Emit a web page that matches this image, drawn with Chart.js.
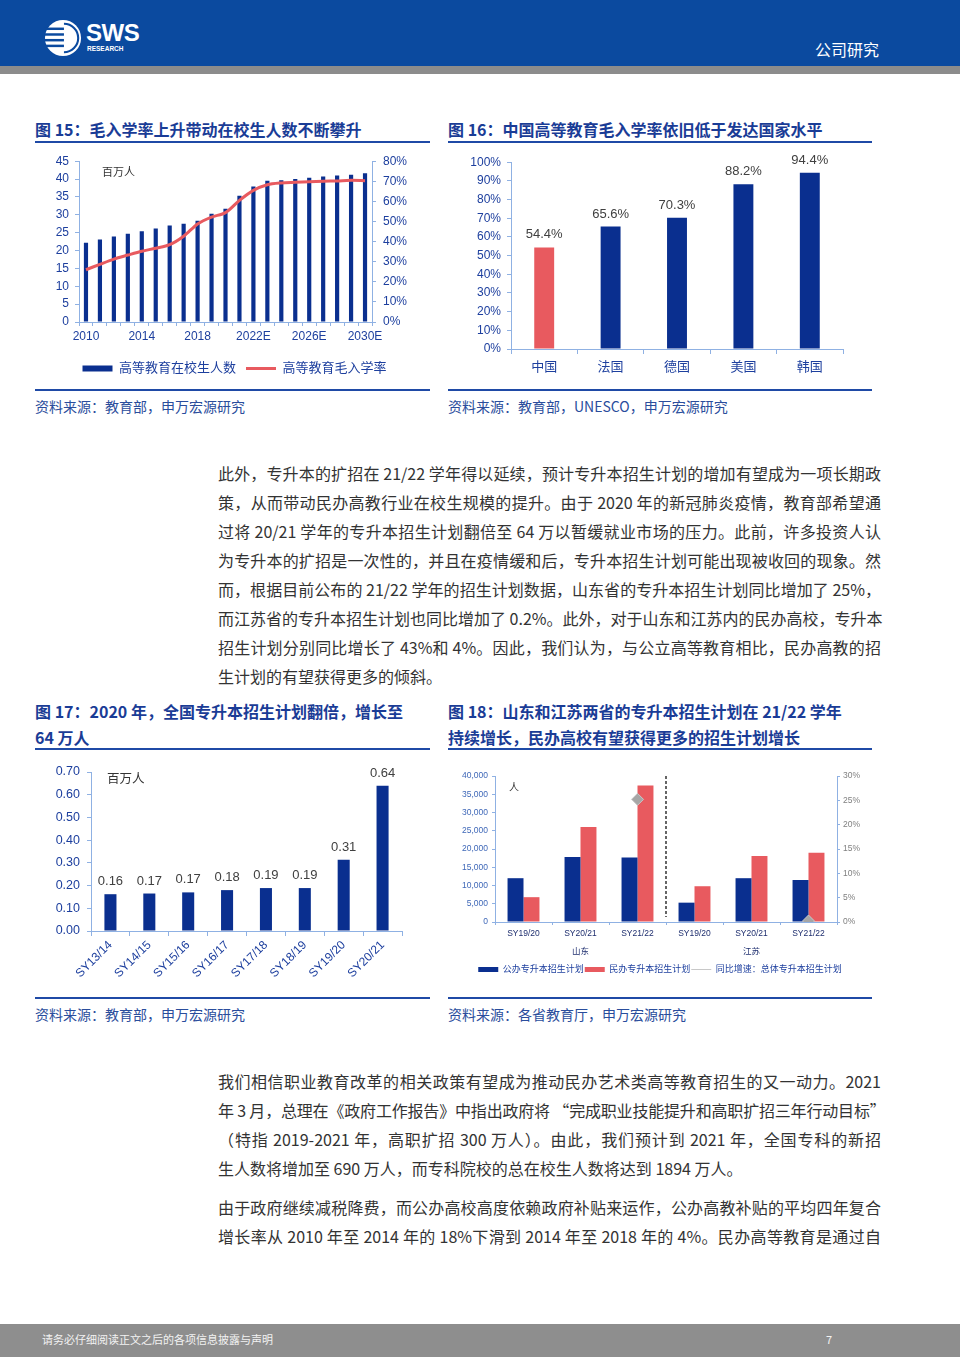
<!DOCTYPE html>
<html>
<head>
<meta charset="utf-8">
<script src="https://cdn.jsdelivr.net/npm/chart.js@4.4.1/dist/chart.umd.min.js"></script>
<style>
body{margin:0;width:960px;height:1357px;position:relative;background:#fff;font-family:"Noto Sans CJK SC",sans-serif;overflow:hidden}
.abs{position:absolute}
.title{font-size:16px;font-weight:bold;color:#1a3c96;line-height:26px;white-space:nowrap}
.rule{height:2px;background:#1f4aa6}
.src{font-size:14px;color:#2a4d9c;white-space:nowrap;line-height:20px}
.para{left:218px;width:663px;font-size:16px;color:#333}
.para div{height:29px;line-height:29px;text-align:justify;text-align-last:justify;white-space:nowrap}
.para div.last{text-align-last:left}
.unit{color:#333;white-space:nowrap}
.box{position:absolute}
</style>
</head>
<body>

<!-- header -->
<div class="abs" style="left:0;top:0;width:960px;height:66px;background:#0b4a9f"></div>
<div class="abs" style="left:0;top:66px;width:960px;height:8px;background:#8c8c8c"></div>
<svg class="abs" style="left:44px;top:19px" width="38" height="38" viewBox="0 0 40 40">
  <circle cx="20" cy="20" r="19" fill="#fff"/>
  <g fill="#0b4a9f">
    <rect x="0" y="9" width="21" height="2.6"/>
    <rect x="0" y="15" width="21" height="2.6"/>
    <rect x="0" y="21" width="21" height="2.6"/>
    <rect x="0" y="27" width="21" height="2.6"/>
  </g>
  <path d="M 21 5 A 15 15 0 0 1 21 35" fill="none" stroke="#0b4a9f" stroke-width="2.2"/>
</svg>
<div class="abs" style="left:86px;top:19px;font-family:'Liberation Sans',sans-serif;font-weight:bold;font-size:24px;color:#fff;letter-spacing:-0.5px">SWS</div>
<div class="abs" style="left:87px;top:45px;font-family:'Liberation Sans',sans-serif;font-weight:bold;font-size:6.5px;color:#fff">RESEARCH</div>
<div class="abs" style="left:815px;top:37px;font-size:16px;color:#fff">公司研究</div>

<!-- figure 15 / 16 -->
<div class="abs title" style="left:35px;top:116px">图 15：毛入学率上升带动在校生人数不断攀升</div>
<div class="abs rule" style="left:35px;top:141px;width:395px"></div>
<div class="abs title" style="left:448px;top:116px">图 16：中国高等教育毛入学率依旧低于发达国家水平</div>
<div class="abs rule" style="left:448px;top:141px;width:424px"></div>

<div class="box" style="left:30px;top:147px;width:409px;height:238px"><canvas id="c15"></canvas></div>
<div class="abs unit" style="left:102px;top:163px;font-size:11px">百万人</div>
<div class="box" style="left:448px;top:149px;width:424px;height:236px"><canvas id="c16"></canvas></div>

<div class="abs rule" style="left:35px;top:389px;width:395px"></div>
<div class="abs rule" style="left:448px;top:389px;width:424px"></div>
<div class="abs src" style="left:35px;top:396px">资料来源：教育部，申万宏源研究</div>
<div class="abs src" style="left:448px;top:396px">资料来源：教育部，UNESCO，申万宏源研究</div>

<!-- paragraph 1 -->
<div class="abs para" style="top:459px">
  <div>此外，专升本的扩招在 21/22 学年得以延续，预计专升本招生计划的增加有望成为一项长期政</div>
  <div>策，从而带动民办高教行业在校生规模的提升。由于 2020 年的新冠肺炎疫情，教育部希望通</div>
  <div>过将 20/21 学年的专升本招生计划翻倍至 64 万以暂缓就业市场的压力。此前，许多投资人认</div>
  <div>为专升本的扩招是一次性的，并且在疫情缓和后，专升本招生计划可能出现被收回的现象。然</div>
  <div>而，根据目前公布的 21/22 学年的招生计划数据，山东省的专升本招生计划同比增加了 25%，</div>
  <div>而江苏省的专升本招生计划也同比增加了 0.2%。此外，对于山东和江苏内的民办高校，专升本</div>
  <div>招生计划分别同比增长了 43%和 4%。因此，我们认为，与公立高等教育相比，民办高教的招</div>
  <div class="last">生计划的有望获得更多的倾斜。</div>
</div>

<!-- figure 17 / 18 -->
<div class="abs title" style="left:35px;top:698px">图 17：2020 年，全国专升本招生计划翻倍，增长至<br>64 万人</div>
<div class="abs rule" style="left:35px;top:748px;width:395px"></div>
<div class="abs title" style="left:448px;top:698px">图 18：山东和江苏两省的专升本招生计划在 21/22 学年<br>持续增长，民办高校有望获得更多的招生计划增长</div>
<div class="abs rule" style="left:448px;top:748px;width:424px"></div>

<div class="box" style="left:30px;top:757px;width:395px;height:236px"><canvas id="c17"></canvas></div>
<div class="abs unit" style="left:107px;top:768px;font-size:12.5px">百万人</div>
<div class="box" style="left:448px;top:762px;width:424px;height:222px"><canvas id="c18"></canvas></div>
<div class="abs unit" style="left:509px;top:779px;font-size:10px">人</div>

<div class="abs rule" style="left:35px;top:997px;width:395px"></div>
<div class="abs rule" style="left:448px;top:997px;width:424px"></div>
<div class="abs src" style="left:35px;top:1004px">资料来源：教育部，申万宏源研究</div>
<div class="abs src" style="left:448px;top:1004px">资料来源：各省教育厅，申万宏源研究</div>

<!-- paragraphs 2 / 3 -->
<div class="abs para" style="top:1067px">
  <div>我们相信职业教育改革的相关政策有望成为推动民办艺术类高等教育招生的又一动力。2021</div>
  <div style="letter-spacing:-0.18px">年 3 月，总理在《政府工作报告》中指出政府将 “完成职业技能提升和高职扩招三年行动目标”</div>
  <div>（特指 2019-2021 年，高职扩招 300 万人）。由此，我们预计到 2021 年，全国专科的新招</div>
  <div class="last">生人数将增加至 690 万人，而专科院校的总在校生人数将达到 1894 万人。</div>
</div>
<div class="abs para" style="top:1193px">
  <div>由于政府继续减税降费，而公办高校高度依赖政府补贴来运作，公办高教补贴的平均四年复合</div>
  <div>增长率从 2010 年至 2014 年的 18%下滑到 2014 年至 2018 年的 4%。民办高等教育是通过自</div>
</div>

<!-- footer -->
<div class="abs" style="left:0;top:1324px;width:960px;height:33px;background:#8e8e8e"></div>
<div class="abs" style="left:42px;top:1331px;font-size:11px;color:#f2f2f2">请务必仔细阅读正文之后的各项信息披露与声明</div>
<div class="abs" style="left:826px;top:1331px;font-size:11px;color:#f2f2f2">7</div>

<script>
// 图15：高等教育在校生人数（百万人）与毛入学率（%）
const enrolYears = ['2010', '2011', '2012', '2013', '2014', '2015', '2016', '2017', '2018', '2019', '2020',
                    '2021', '2022E', '2023E', '2024E', '2025E', '2026E', '2027E', '2028E', '2029E', '2030E'];
const enrolStudents = [22.2, 23.1, 23.9, 24.7, 25.4, 26.2, 27.0, 27.5, 28.3, 30.3, 31.7,
                       35.3, 37.9, 39.5, 39.7, 40.0, 40.4, 40.7, 41.0, 41.2, 41.6];
const grossRate = [26.0, 28.7, 31.3, 33.3, 35.2, 36.7, 38.5, 42.7, 48.8, 52.2, 54.4,
                   60.5, 65.5, 68.3, 69.2, 69.5, 69.8, 70.0, 70.2, 70.5, 70.3];

// 图16：各国高等教育毛入学率（%）
const countries = ['中国', '法国', '德国', '美国', '韩国'];
const countryRate = [54.4, 65.6, 70.3, 88.2, 94.4];

// 图17：全国专升本招生计划（百万人）
const schoolYears = ['SY13/14', 'SY14/15', 'SY15/16', 'SY16/17', 'SY17/18', 'SY18/19', 'SY19/20', 'SY20/21'];
const upgradeQuota = [0.162, 0.165, 0.170, 0.180, 0.189, 0.189, 0.314, 0.639];

// 图18：山东、江苏专升本招生计划（人）及同比增速（%）
const provinces = ['山东', '江苏'];
const provYears = ['SY19/20', 'SY20/21', 'SY21/22'];
const publicPlan = [12000, 17800, 17700, 5300, 12000, 11500];
const privatePlan = [6800, 26000, 37400, 9800, 18100, 19000];
const totalYoY = [null, null, 25.2, null, null, 0.2];

const navy = '#0a2f8f';
const red = '#e85a5f';
const axisBlue = '#8fb1e3';
const tickBlue = '#1d3f9e';

Chart.defaults.font.family = '"Liberation Sans", "Noto Sans CJK SC", sans-serif';
Chart.defaults.animation = false;
Chart.defaults.maintainAspectRatio = false;
Chart.defaults.plugins.tooltip.enabled = false;

// value labels above the bars of the first dataset
const barValueLabels = {
  id: 'barValueLabels',
  afterDatasetsDraw(chart, args, opts) {
    const ctx = chart.ctx;
    const meta = chart.getDatasetMeta(0);
    const values = chart.data.datasets[0].data;
    ctx.save();
    ctx.font = opts.size + 'px "Liberation Sans", sans-serif';
    ctx.fillStyle = '#404040';
    ctx.textAlign = 'center';
    ctx.textBaseline = 'bottom';
    meta.data.forEach((bar, i) => ctx.fillText(opts.format(values[i]), bar.x, bar.y - opts.gap));
    ctx.restore();
  }
};

// dashed line between the two provinces
const provinceSplit = {
  id: 'provinceSplit',
  afterDatasetsDraw(chart) {
    const x = chart.scales.x;
    const px = (x.getPixelForValue(2) + x.getPixelForValue(3)) / 2;
    const ctx = chart.ctx;
    ctx.save();
    ctx.strokeStyle = '#333';
    ctx.lineWidth = 1.5;
    ctx.setLineDash([3, 2]);
    ctx.beginPath();
    ctx.moveTo(px, chart.chartArea.top);
    ctx.lineTo(px, chart.chartArea.bottom - 5);
    ctx.stroke();
    ctx.restore();
  }
};

function legendItems(styles) {
  return function (chart) {
    const items = Chart.defaults.plugins.legend.labels.generateLabels(chart);
    items.sort((a, b) => a.datasetIndex - b.datasetIndex);
    items.forEach(it => { it.pointStyle = styles[it.datasetIndex]; });
    return items;
  };
}

function axisGrid(len) {
  return {drawOnChartArea: false, color: axisBlue, tickLength: len, tickColor: axisBlue};
}

// 图15
new Chart(document.getElementById('c15'), {
  data: {
    labels: enrolYears,
    datasets: [
      {type: 'bar', label: '高等教育在校生人数', data: enrolStudents, yAxisID: 'y',
       backgroundColor: navy, barPercentage: 0.3, categoryPercentage: 1, order: 1},
      {type: 'line', label: '高等教育毛入学率', data: grossRate, yAxisID: 'y1',
       borderColor: red, backgroundColor: red, borderWidth: 3, pointRadius: 0, tension: 0.3, order: 0}
    ]
  },
  options: {
    layout: {padding: {top: 10, right: 0, left: 0, bottom: 0}},
    plugins: {
      legend: {position: 'bottom', labels: {usePointStyle: true, pointStyleWidth: 30, boxHeight: 6,
        padding: 10, color: '#1d3f9e', font: {size: 13}, generateLabels: legendItems(['rect', 'line'])}}
    },
    scales: {
      x: {grid: {drawOnChartArea: false, tickLength: 4, tickColor: axisBlue, offset: true},
          border: {color: axisBlue},
          ticks: {autoSkip: false, maxRotation: 0, color: tickBlue, font: {size: 12}, padding: 3,
                  callback: (v, i) => i % 4 === 0 ? enrolYears[i] : ''},
          afterFit: s => { s.height = 30; }},
      y: {position: 'left', min: 0, max: 45, grid: axisGrid(4), border: {color: axisBlue},
          ticks: {stepSize: 5, autoSkip: false, color: tickBlue, font: {size: 12}, padding: 6},
          afterFit: s => { s.width = 49; }},
      y1: {position: 'right', min: 0, max: 80, grid: axisGrid(4), border: {color: axisBlue},
           ticks: {stepSize: 10, autoSkip: false, color: tickBlue, font: {size: 12}, padding: 7, callback: v => v + '%'},
           afterFit: s => { s.width = 67; }}
    }
  }
});

// 图16
new Chart(document.getElementById('c16'), {
  type: 'bar',
  data: {
    labels: countries,
    datasets: [{label: '毛入学率', data: countryRate,
      backgroundColor: countries.map((c, i) => i === 0 ? red : navy),
      barPercentage: 0.3, categoryPercentage: 1}]
  },
  plugins: [barValueLabels],
  options: {
    layout: {padding: {top: 11, right: 29, left: 0, bottom: 0}},
    plugins: {
      legend: {display: false},
      barValueLabels: {size: 13, gap: 6, format: v => v.toFixed(1) + '%'}
    },
    scales: {
      x: {grid: {drawOnChartArea: false, tickLength: 5, tickColor: axisBlue, offset: true},
          border: {color: axisBlue},
          ticks: {color: tickBlue, font: {size: 13}, padding: 6},
          afterFit: s => { s.height = 36; }},
      y: {min: 0, max: 100, grid: axisGrid(4), border: {color: axisBlue},
          ticks: {stepSize: 10, autoSkip: false, color: tickBlue, font: {size: 12}, padding: 6, callback: v => v + '%'},
          afterFit: s => { s.width = 63; }}
    }
  }
});

// 图17
new Chart(document.getElementById('c17'), {
  type: 'bar',
  data: {
    labels: schoolYears,
    datasets: [{label: '专升本招生计划', data: upgradeQuota, backgroundColor: navy,
      barPercentage: 0.31, categoryPercentage: 1}]
  },
  plugins: [barValueLabels],
  options: {
    layout: {padding: {top: 15, right: 23, left: 0, bottom: 0}},
    plugins: {
      legend: {display: false},
      barValueLabels: {size: 13, gap: 6, format: v => v.toFixed(2)}
    },
    scales: {
      x: {grid: {drawOnChartArea: false, tickLength: 5, tickColor: axisBlue, offset: true},
          border: {color: axisBlue},
          ticks: {color: tickBlue, font: {size: 12}, padding: 2, minRotation: 45, maxRotation: 45},
          afterFit: s => { s.height = 62; }},
      y: {min: 0, max: 0.7, grid: axisGrid(4), border: {color: axisBlue},
          ticks: {stepSize: 0.1, autoSkip: false, color: tickBlue, font: {size: 12.5}, padding: 7, callback: v => v.toFixed(2)},
          afterFit: s => { s.width = 61; }}
    }
  }
});

// 图18
const provLabels = [];
provinces.forEach(p => provYears.forEach((y, i) => provLabels.push([y, i === 1 ? p : ''])));

new Chart(document.getElementById('c18'), {
  data: {
    labels: provLabels,
    datasets: [
      {type: 'bar', label: '公办专升本招生计划', data: publicPlan, yAxisID: 'y', backgroundColor: navy,
       barPercentage: 1, categoryPercentage: 0.56, order: 1},
      {type: 'bar', label: '民办专升本招生计划', data: privatePlan, yAxisID: 'y', backgroundColor: red,
       barPercentage: 1, categoryPercentage: 0.56, order: 1},
      {type: 'line', label: '同比增速：总体专升本招生计划', data: totalYoY, yAxisID: 'y1', showLine: false,
       borderColor: '#9a9a9a', backgroundColor: '#a6a6a6', borderWidth: 2,
       pointStyle: 'rectRot', pointRadius: 6, pointBorderColor: '#c8c8c8', pointBorderWidth: 1, order: 0}
    ]
  },
  plugins: [provinceSplit],
  options: {
    layout: {padding: {top: 14, right: 0, left: 0, bottom: 0}},
    plugins: {
      legend: {position: 'bottom', labels: {usePointStyle: true, pointStyleWidth: 20, boxHeight: 5,
        padding: 1, color: '#1d3f9e', font: {size: 9}, generateLabels: legendItems(['rect', 'rect', 'line'])}}
    },
    scales: {
      x: {grid: {drawOnChartArea: false, tickLength: 3, tickColor: axisBlue, offset: true},
          border: {color: axisBlue},
          ticks: {color: '#1f2f6f', font: {size: 8.5, lineHeight: 2.1}, padding: 0, maxRotation: 0, autoSkip: false},
          afterFit: s => { s.height = 42; }},
      y: {position: 'left', min: 0, max: 40000, grid: axisGrid(3), border: {color: axisBlue},
          ticks: {stepSize: 5000, autoSkip: false, color: '#3f68b8', font: {size: 8.5}, padding: 4,
                  callback: v => v.toLocaleString('en-US')},
          afterFit: s => { s.width = 47; }},
      y1: {position: 'right', min: 0, max: 30, grid: axisGrid(3), border: {color: axisBlue},
           ticks: {stepSize: 5, autoSkip: false, color: '#808080', font: {size: 8.5}, padding: 3, callback: v => v + '%'},
           afterFit: s => { s.width = 35; }}
    }
  }
});
</script>
</body>
</html>
